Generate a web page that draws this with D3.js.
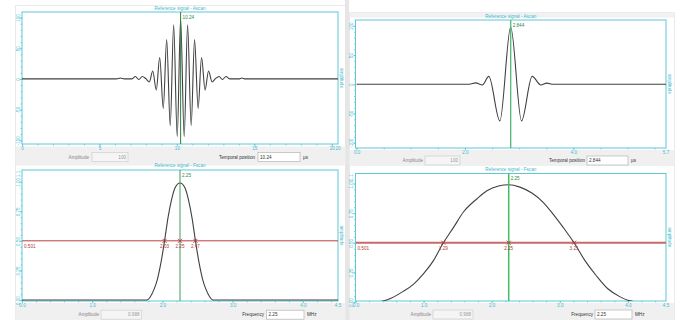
<!DOCTYPE html>
<html>
<head>
<meta charset="utf-8">
<script src="https://cdn.jsdelivr.net/npm/d3@7"></script>
<style>
  html, body { margin: 0; padding: 0; background: #fff; }
  svg { display: block; font-family: "Liberation Sans", Arial, sans-serif; }
</style>
</head>
<body>
<svg id="chart" width="684" height="320"></svg>
<script>
// --- data ---

// left A-scan: time (µs) / amplitude, taken at each extremum
const ascanLeftT = [0, 6.1, 6.35, 6.6, 7.1, 7.32, 7.54, 7.77, 7.99, 8.22, 8.44, 8.67, 8.89, 9.12, 9.34, 9.57, 9.79, 10.02,
  10.24, 10.47, 10.69, 10.92, 11.14, 11.37, 11.59, 11.82, 12.04, 12.27, 12.49, 12.72, 12.94, 13.17, 13.4, 14.0, 14.2, 14.4, 20.4];
const ascanLeftA = [0, 0, 1.5, 0, 0, 4, -1, 4, 0.5, -5, 13, -18, 35, -48, 64, -76, 88, -94,
  98, -94, 88, -76, 64, -48, 35, -18, 13, -5, 0.5, 4, -1, 4, 0, 0, 1.5, 0, 0];

// right A-scan
const ascanRightT = [0, 2.08, 2.2, 2.32, 2.44, 2.644, 2.844, 3.044, 3.24, 3.4, 3.51, 3.63, 5.73];
const ascanRightA = [0, 0, 2.4, -1.2, 13.6, -62.6, 98, -62.6, 13.6, -1.2, 2, 0, 0];

// left F-scan: frequency (MHz) / normalised amplitude
const fscanLeftF = [0, 1.78, 1.83, 1.88, 1.93, 1.98, 2.03, 2.08, 2.13, 2.18, 2.25, 2.32, 2.37, 2.42, 2.47, 2.52, 2.57, 2.62, 2.67, 2.72, 4.5];
const fscanLeftA = [0, 0, 0.03, 0.09, 0.18, 0.32, 0.5, 0.7, 0.85, 0.95, 0.99, 0.95, 0.85, 0.7, 0.5, 0.32, 0.18, 0.09, 0.03, 0, 0];

// right F-scan
const fscanRightF = [0, 0.36, 0.53, 0.7, 0.85, 1.0, 1.145, 1.29, 1.44, 1.585, 1.78, 1.93, 2.1, 2.25, 2.415, 2.59, 2.76, 2.905, 3.05, 3.21, 3.37, 3.54, 3.71, 3.88, 4.03, 4.18, 4.56];
const fscanRightA = [0, 0.005, 0.035, 0.09, 0.15, 0.24, 0.35, 0.5, 0.63, 0.76, 0.87, 0.94, 0.98, 0.99, 0.97, 0.92, 0.84, 0.74, 0.63, 0.5, 0.35, 0.22, 0.11, 0.046, 0.01, 0, 0];

// ticks
const ascanLeftXTicks = [0, 5, 10, 15, 20];
const ascanLeftXLabels = ["0", "5", "10", "15", "20"];
const ascanRightXTicks = [0, 2, 4];
const ascanRightXLabels = ["0.0", "2.0", "4.0"];
const ascanYTicks = [-100, -50, 0, 50, 100];
const ascanYLabels = ["-100", "-50", "0", "50", "100"];
const fscanXTicks = [0, 1, 2, 3, 4];
const fscanXLabels = ["0.0", "1.0", "2.0", "3.0", "4.0"];
const fscanYTicks = [0, 0.25, 0.5, 0.75, 1];
const fscanYLabels = ["0.00", "0.25", "0.50", "0.75", "1.00"];

// cursors and half-height markers
const cursors = [10.24, 2.844, 2.25, 2.25];
const cursorLabels = ["10.24", "2.844", "2.25", "2.25"];
const threshold = 0.501;
const fscanLeftMarks = [2.03, 2.25, 2.47];
const fscanLeftMarkLabels = ["2.03", "2.25", "2.47"];
const fscanRightMarks = [1.29, 2.25, 3.21];
const fscanRightMarkLabels = ["1.29", "2.25", "3.21"];

// controls under each plot
const ampValues = ["100", "100", "0.988", "0.988"];
const posLabels = ["Temporal position", "Temporal position", "Frequency", "Frequency"];
const posValues = ["10.24", "2.844", "2.25", "2.25"];
const posUnits = ["µs", "µs", "MHz", "MHz"];

// --- drawing ---
const svg = d3.select("#chart");
const CYAN = "#5cc8d6";
const CYAN_TXT = "#3fb9c9";
const FS = 4.6;

// panel backgrounds
svg.append("rect").attr("x", 15.5).attr("y", 5.5).attr("width", 330).attr("height", 315)
  .attr("fill", "#fff").attr("stroke", "#e4e4e4").attr("stroke-width", 0.8);
svg.append("rect").attr("x", 349.5).attr("y", 12.5).attr("width", 325).attr("height", 308)
  .attr("fill", "#fff").attr("stroke", "#e4e4e4").attr("stroke-width", 0.8);
svg.append("rect").attr("x", 345).attr("y", 0).attr("width", 4).attr("height", 320).attr("fill", "#e6e6e6");
svg.append("rect").attr("x", 349.5).attr("y", 12.5).attr("width", 325).attr("height", 5).attr("fill", "#f1f1f1");

// grey control bands
[[15.5, 146.5, 330, 19], [349.5, 150, 325, 16], [15.5, 303, 330, 17], [349.5, 303, 325, 17]].forEach(b => {
  svg.append("rect").attr("x", b[0]).attr("y", b[1]).attr("width", b[2]).attr("height", b[3]).attr("fill", "#f0f0f0");
});

const panels = [
  { left: 22, right: 338, top: 12, bottom: 144, xDomain: [0, 20.4], yDomain: [-106, 109],
    xs: ascanLeftT, ys: ascanLeftA, xTicks: ascanLeftXTicks, xLabels: ascanLeftXLabels, xMinor: d3.range(0, 20.01, 1),
    xEnd: "20", yTicks: ascanYTicks, yLabels: ascanYLabels, yMinor: d3.range(-100, 101, 10), yEnd: null,
    title: "Reference signal - Ascan", titleY: 10, cursorColor: "#2f7d3f", cursorWidth: 1,
    ctrl: { y: 157, ampRight: 89, box1: [92, 128], posRight: 255, box2: [258, 300] } },
  { left: 355.5, right: 666, top: 20, bottom: 148, xDomain: [-0.02, 5.71], yDomain: [-109, 110],
    xs: ascanRightT, ys: ascanRightA, xTicks: ascanRightXTicks, xLabels: ascanRightXLabels, xMinor: d3.range(0, 5.71, 0.5),
    xEnd: "5.7", yTicks: ascanYTicks, yLabels: ascanYLabels, yMinor: d3.range(-100, 101, 10), yEnd: null,
    title: "Reference signal - Ascan", titleY: 17.5, cursorColor: "#4fb877", cursorWidth: 1.3,
    ctrl: { y: 160.5, ampRight: 423, box1: [425, 460], posRight: 585, box2: [587, 628] } },
  { left: 22, right: 338, top: 170, bottom: 301, xDomain: [0, 4.5], yDomain: [-0.008, 1.1],
    xs: fscanLeftF, ys: fscanLeftA, xTicks: fscanXTicks, xLabels: fscanXLabels, xMinor: d3.range(0, 4.51, 0.2),
    xEnd: "4.5", yTicks: fscanYTicks, yLabels: fscanYLabels, yMinor: d3.range(0, 1.01, 0.05), yEnd: "1.1",
    title: "Reference signal - Fscan", titleY: 167, cursorColor: "#3f9a5a", cursorWidth: 1,
    marks: fscanLeftMarks, markLabels: fscanLeftMarkLabels, redColor: "#b8403f", redWidth: 1,
    ctrl: { y: 314.7, ampRight: 99, box1: [101, 141.5], posRight: 264, box2: [266.5, 304] } },
  { left: 355.5, right: 666, top: 173.5, bottom: 301, xDomain: [0, 4.56], yDomain: [0.009, 1.085],
    xs: fscanRightF, ys: fscanRightA, xTicks: fscanXTicks, xLabels: fscanXLabels, xMinor: d3.range(0, 4.51, 0.2),
    xEnd: "4.5", yTicks: fscanYTicks, yLabels: fscanYLabels, yMinor: d3.range(0, 1.01, 0.05), yEnd: "1.1",
    title: "Reference signal - Fscan", titleY: 170.5, cursorColor: "#3fc060", cursorWidth: 1.5,
    marks: fscanRightMarks, markLabels: fscanRightMarkLabels, redColor: "#c96a6a", redWidth: 2,
    ctrl: { y: 314.5, ampRight: 431, box1: [433, 473], posRight: 593, box2: [595, 632] } }
];

function styleAxis(sel) {
  sel.select(".domain").remove();
  sel.selectAll("line").attr("stroke", CYAN).attr("stroke-width", 0.8);
  sel.selectAll("text").attr("fill", CYAN_TXT).attr("font-size", FS).attr("font-family", null);
}

panels.forEach((p, i) => {
  const g = svg.append("g");
  const x = d3.scaleLinear().domain(p.xDomain).range([p.left, p.right]);
  const y = d3.scaleLinear().domain(p.yDomain).range([p.bottom, p.top]);

  g.append("rect").attr("x", p.left).attr("y", p.top)
    .attr("width", p.right - p.left).attr("height", p.bottom - p.top)
    .attr("fill", "#fff").attr("stroke", CYAN).attr("stroke-width", 1);

  // title
  g.append("text").attr("x", (p.left + p.right) / 2).attr("y", p.titleY).attr("text-anchor", "middle")
    .attr("font-size", FS).attr("fill", CYAN_TXT).text(p.title);

  // x axis: minor then major
  g.append("g").attr("transform", `translate(0,${p.bottom})`)
    .call(d3.axisBottom(x).tickValues(p.xMinor).tickSize(1.5).tickFormat(""))
    .call(styleAxis);
  g.append("g").attr("transform", `translate(0,${p.bottom})`)
    .call(d3.axisBottom(x).tickValues(p.xTicks).tickSize(2.2).tickPadding(1)
      .tickFormat((d, k) => p.xLabels[k]))
    .call(styleAxis);
  g.append("text").attr("x", p.right).attr("y", p.bottom + 2.5).attr("dy", "0.71em")
    .attr("text-anchor", "middle").attr("font-size", FS).attr("fill", CYAN_TXT).text(p.xEnd);

  // y axis: minor then major with rotated labels
  g.append("g").attr("transform", `translate(${p.left},0)`)
    .call(d3.axisLeft(y).tickValues(p.yMinor).tickSize(1.5).tickFormat(""))
    .call(styleAxis);
  g.append("g").attr("transform", `translate(${p.left},0)`)
    .call(d3.axisLeft(y).tickValues(p.yTicks).tickSize(2.2).tickFormat((d, k) => p.yLabels[k]))
    .call(styleAxis)
    .call(s => s.selectAll("text")
      .attr("x", 0).attr("dy", 0).attr("text-anchor", "middle")
      .attr("transform", "translate(-2.4,0) rotate(-90)"));
  if (p.yEnd) {
    g.append("text").attr("text-anchor", "middle").attr("font-size", FS).attr("fill", CYAN_TXT)
      .attr("transform", `translate(${p.left - 2.4},${p.top + 4}) rotate(-90)`).text(p.yEnd);
  }

  // right-hand axis name
  g.append("text").attr("text-anchor", "middle").attr("font-size", FS).attr("fill", CYAN_TXT)
    .attr("transform", `translate(${p.right + 1.6},${(p.top + p.bottom) / 2}) rotate(90)`).text("amplitude");

  // clip
  const clipId = "clip" + i;
  svg.append("clipPath").attr("id", clipId).append("rect")
    .attr("x", p.left).attr("y", p.top).attr("width", p.right - p.left).attr("height", p.bottom - p.top);
  const plot = g.append("g").attr("clip-path", `url(#${clipId})`);

  // threshold line for the spectra
  if (p.marks) {
    plot.append("line").attr("x1", p.left).attr("x2", p.right)
      .attr("y1", y(threshold)).attr("y2", y(threshold))
      .attr("stroke", p.redColor).attr("stroke-width", p.redWidth);
  }

  // signal
  const line = d3.line().x(d => x(d[0])).y(d => y(d[1])).curve(d3.curveMonotoneX);
  plot.append("path").datum(d3.zip(p.xs, p.ys)).attr("d", line)
    .attr("fill", "none").attr("stroke", "#404040").attr("stroke-width", 1.1);

  // cursor
  plot.append("line").attr("x1", x(cursors[i])).attr("x2", x(cursors[i]))
    .attr("y1", p.top).attr("y2", p.bottom)
    .attr("stroke", p.cursorColor).attr("stroke-width", p.cursorWidth);
  g.append("text").attr("x", x(cursors[i]) + 2).attr("y", p.top + 6.5)
    .attr("font-size", FS).attr("fill", "#2e8b3e").text(cursorLabels[i]);

  // half-height markers
  if (p.marks) {
    g.append("text").attr("x", p.left + 2).attr("y", y(threshold) + 7.5)
      .attr("font-size", FS).attr("fill", "#b03a3a").text("0.501");
    p.marks.forEach((m, k) => {
      const mx = x(m), my = y(threshold);
      g.append("path").attr("d", `M${mx - 2},${my - 2}L${mx + 2},${my + 2}M${mx - 2},${my + 2}L${mx + 2},${my - 2}`)
        .attr("stroke", "#b03a3a").attr("stroke-width", 0.9);
      g.append("text").attr("x", mx).attr("y", my + 7.5).attr("text-anchor", "middle")
        .attr("font-size", FS).attr("fill", "#b03a3a").text(p.markLabels[k]);
    });
  }

  // controls
  const c = p.ctrl;
  g.append("text").attr("x", c.ampRight).attr("y", c.y).attr("dy", "0.35em").attr("text-anchor", "end")
    .attr("font-size", FS).attr("fill", "#888").text("Amplitude");
  g.append("rect").attr("x", c.box1[0]).attr("y", c.y - 4.5).attr("width", c.box1[1] - c.box1[0]).attr("height", 9)
    .attr("fill", "#f5f5f5").attr("stroke", "#cfcfcf").attr("stroke-width", 0.7);
  g.append("text").attr("x", c.box1[1] - 2).attr("y", c.y).attr("dy", "0.35em").attr("text-anchor", "end")
    .attr("font-size", FS).attr("fill", "#999").text(ampValues[i]);
  g.append("text").attr("x", c.posRight).attr("y", c.y).attr("dy", "0.35em").attr("text-anchor", "end")
    .attr("font-size", FS).attr("fill", "#333").text(posLabels[i]);
  g.append("rect").attr("x", c.box2[0]).attr("y", c.y - 4.5).attr("width", c.box2[1] - c.box2[0]).attr("height", 9)
    .attr("fill", "#fff").attr("stroke", "#b5b5b5").attr("stroke-width", 0.7);
  g.append("text").attr("x", c.box2[0] + 2).attr("y", c.y).attr("dy", "0.35em")
    .attr("font-size", FS).attr("fill", "#333").text(posValues[i]);
  g.append("text").attr("x", c.box2[1] + 3).attr("y", c.y).attr("dy", "0.35em")
    .attr("font-size", FS).attr("fill", "#333").text(posUnits[i]);
});
</script>
</body>
</html>
